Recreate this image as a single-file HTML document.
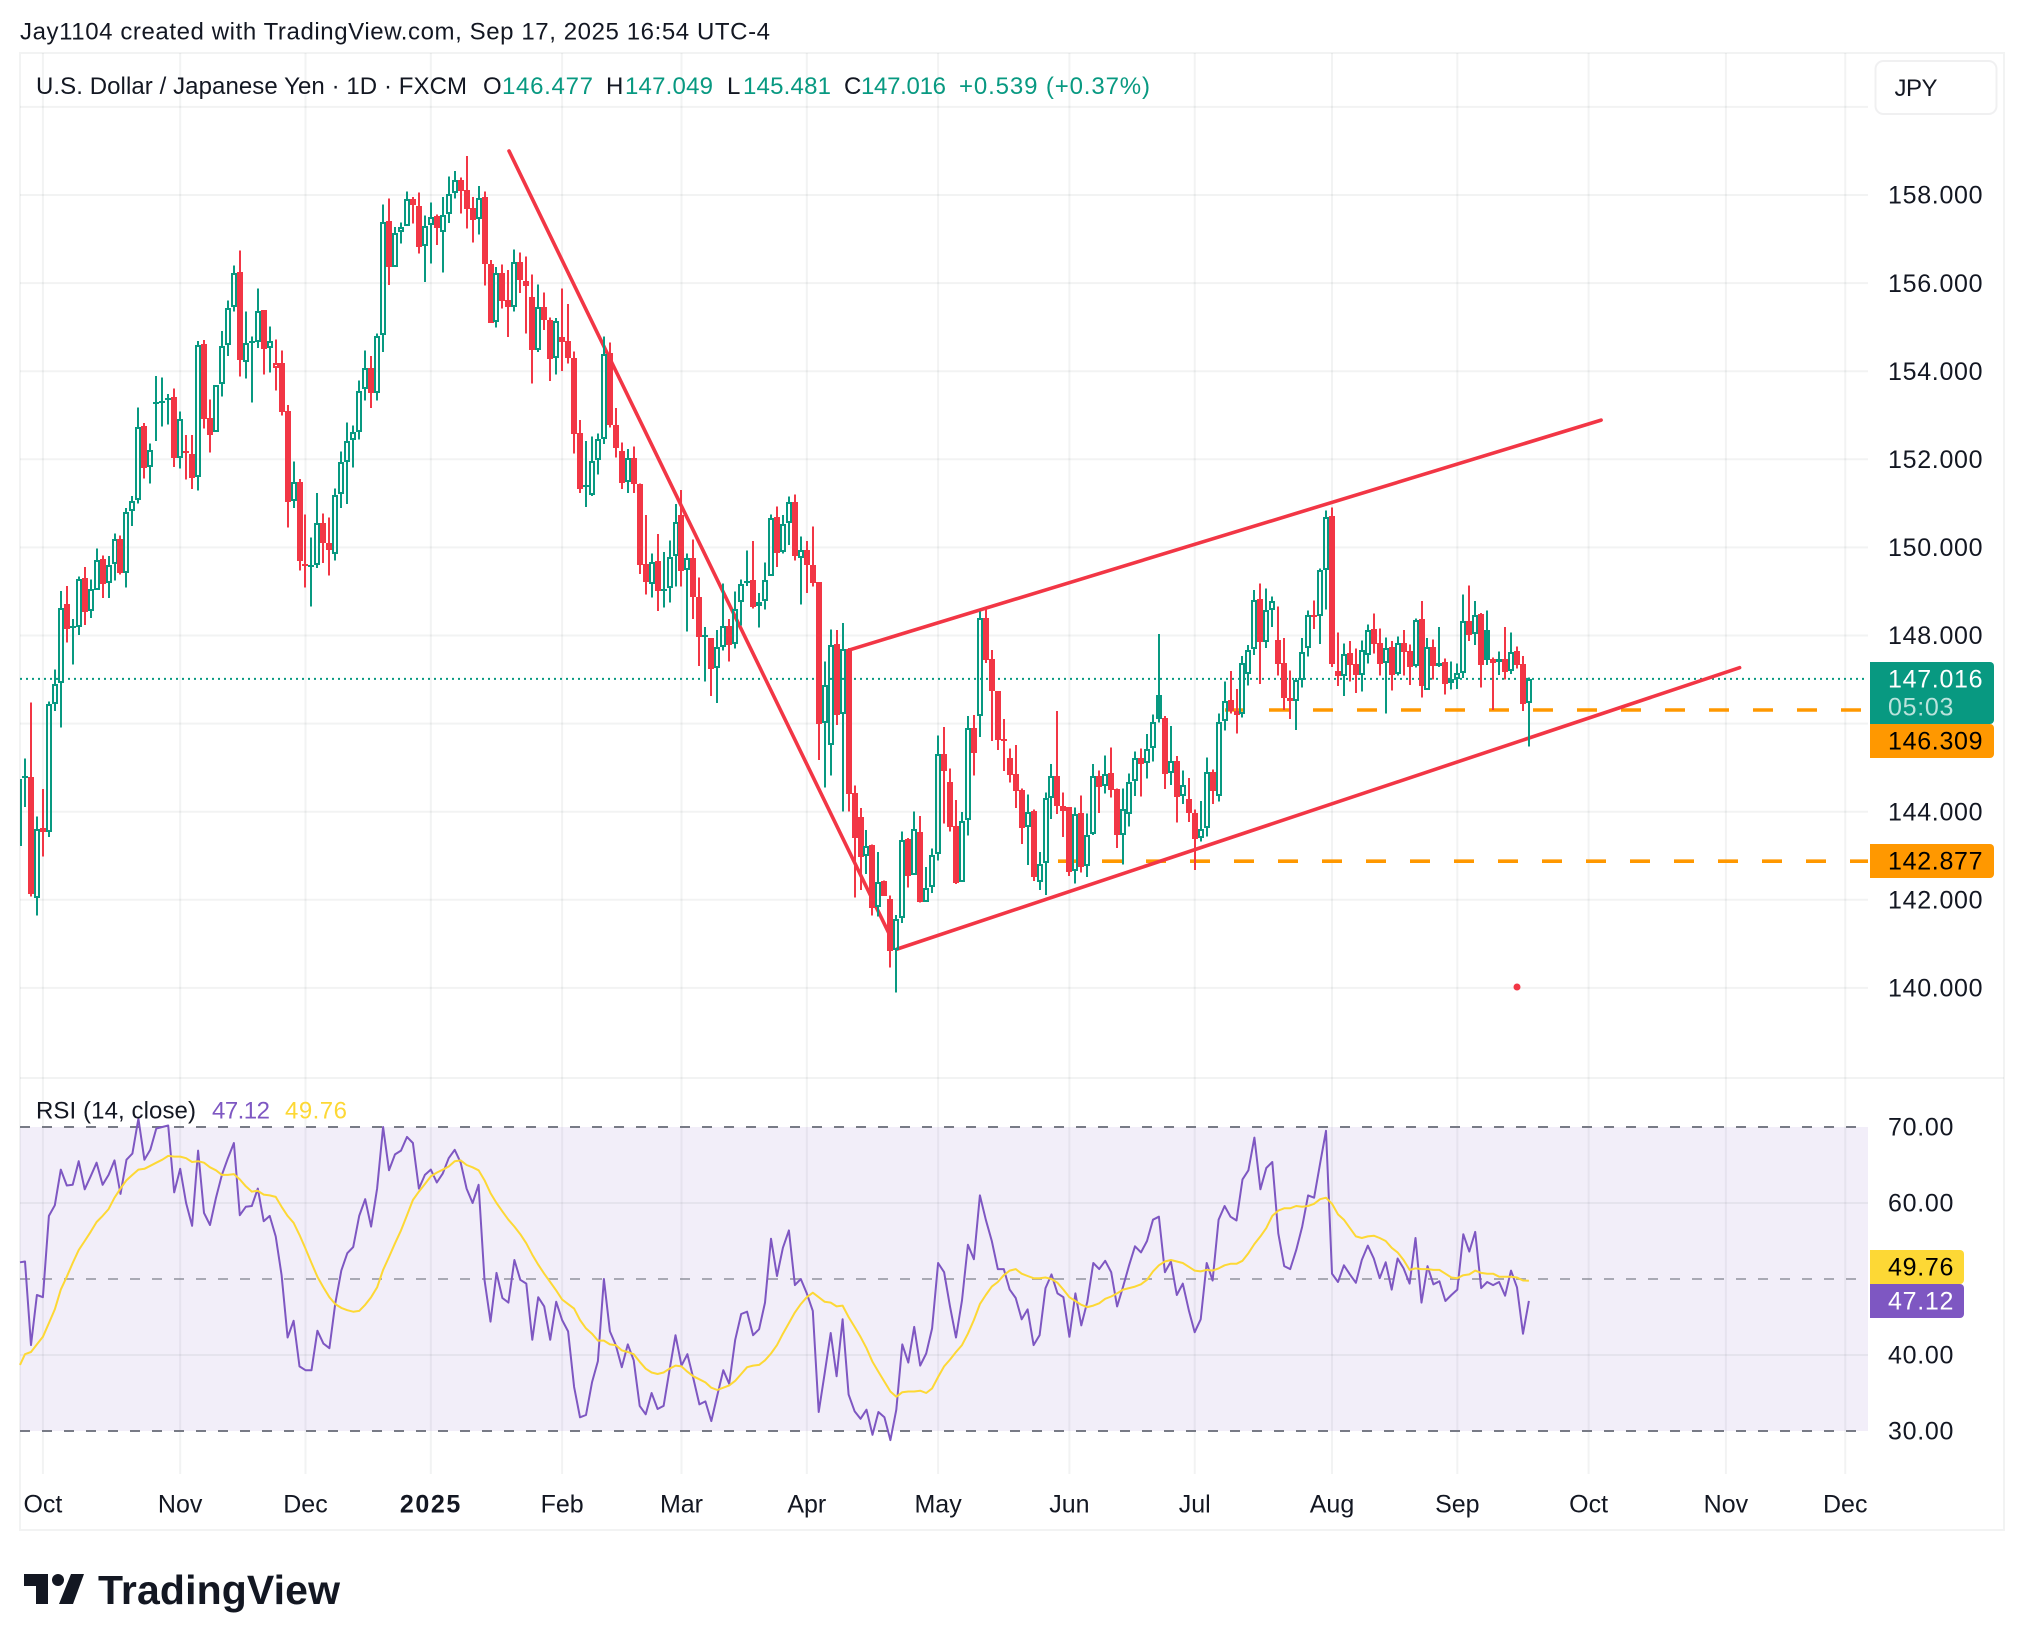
<!DOCTYPE html>
<html lang="en">
<head>
<meta charset="utf-8">
<title>USD/JPY daily chart with RSI</title>
<style>
html,body{margin:0;padding:0;background:#fff;}
svg{display:block;font-family:"Liberation Sans",sans-serif;}
</style>
</head>
<body>
<svg id="chart" xmlns="http://www.w3.org/2000/svg" width="2024" height="1650" viewBox="0 0 2024 1650">
  <defs>
    <clipPath id="plot-clip"><rect x="20" y="53" width="1848" height="1025"></rect></clipPath>
  </defs>
  <rect x="0" y="0" width="2024" height="1650" fill="#ffffff"></rect>
  <g id="grid-layer"></g>
  <g id="drawing-layer" clip-path="url(#plot-clip)"></g>
  <g id="candle-layer" clip-path="url(#plot-clip)" shape-rendering="crispEdges"></g>
  <g id="rsi-layer"></g>
  <g id="axis-layer"></g>

  <text x="20" y="39.5" font-size="24" fill="#131722" textLength="750">Jay1104 created with TradingView.com, Sep 17, 2025 16:54 UTC-4</text>

  <g font-size="24">
    <text x="36" y="94.2" fill="#131722" textLength="431">U.S. Dollar / Japanese Yen · 1D · FXCM</text>
    <text x="483" y="94.2" fill="#131722">O</text>
    <text x="502" y="94.2" fill="#089981" textLength="91">146.477</text>
    <text x="606" y="94.2" fill="#131722">H</text>
    <text x="625" y="94.2" fill="#089981" textLength="88">147.049</text>
    <text x="727" y="94.2" fill="#131722">L</text>
    <text x="743" y="94.2" fill="#089981" textLength="88">145.481</text>
    <text x="844" y="94.2" fill="#131722">C</text>
    <text x="861" y="94.2" fill="#089981" textLength="85">147.016</text>
    <text x="959" y="94.2" fill="#089981" textLength="191">+0.539 (+0.37%)</text>
  </g>

  <g>
    <rect x="1875.5" y="61" width="121" height="53" rx="8" fill="#ffffff" stroke="rgba(42,46,57,0.07)" stroke-width="2"></rect>
    <text x="1894.5" y="96" font-size="24" fill="#131722" textLength="43">JPY</text>
  </g>

  <g font-size="24">
    <text x="36" y="1118.5" fill="#131722" textLength="160">RSI (14, close)</text>
    <text x="212" y="1118.5" fill="#7e57c2" textLength="58">47.12</text>
    <text x="285" y="1118.5" fill="#fdd835" textLength="62">49.76</text>
  </g>

  <g font-size="25" letter-spacing="0.7">
    <path d="M1870 662H1990a4 4 0 0 1 4 4V720a4 4 0 0 1-4 4H1870Z" fill="#089981"></path>
    <text x="1888" y="687.7" fill="#ffffff">147.016</text>
    <text x="1888" y="715.7" fill="#ffffff" fill-opacity="0.72">05:03</text>
    <path d="M1870 724H1990a4 4 0 0 1 4 4V754a4 4 0 0 1-4 4H1870Z" fill="#ff9800"></path>
    <text x="1888" y="749.7" fill="#000000">146.309</text>
    <path d="M1870 844H1990a4 4 0 0 1 4 4V874a4 4 0 0 1-4 4H1870Z" fill="#ff9800"></path>
    <text x="1888" y="869.7" fill="#000000">142.877</text>
    <path d="M1870 1250H1960a4 4 0 0 1 4 4V1280a4 4 0 0 1-4 4H1870Z" fill="#fdd835"></path>
    <text x="1888" y="1275.7" fill="#000000">49.76</text>
    <path d="M1870 1284H1960a4 4 0 0 1 4 4V1314a4 4 0 0 1-4 4H1870Z" fill="#7e57c2"></path>
    <text x="1888" y="1309.7" fill="#ffffff">47.12</text>
  </g>

  <g>
    <path d="M24 1574H48V1604H36V1586H24Z" fill="#131722"></path>
    <circle cx="58" cy="1580" r="6" fill="#131722"></circle>
    <path d="M71 1574H84L73 1604H59Z" fill="#131722"></path>
    <text x="98" y="1604" font-size="41" font-weight="700" fill="#131722" textLength="242">TradingView</text>
  </g>
</svg>

<script>
const opens = [
143.21,144.76,144.78,142.03,143.62,143.53,146.44,146.92,148.71,148.19,
148.19,149.30,148.56,149.03,149.73,149.19,149.63,150.18,149.43,150.82,
151.08,152.76,151.83,153.26,153.27,153.34,153.41,152.03,152.19,152.12,
151.59,154.61,152.93,152.62,153.71,154.59,155.45,156.25,154.21,154.66,
154.66,155.38,154.52,154.07,154.18,153.09,151.05,151.49,149.62,149.56,
149.59,150.55,150.09,149.85,151.21,151.95,152.43,152.62,153.60,154.08,
153.51,154.82,157.40,156.37,157.15,157.30,157.92,157.74,156.84,157.31,
157.52,157.15,157.56,158.04,158.33,158.11,157.70,157.46,157.95,156.43,
155.12,156.23,155.62,155.46,156.48,156.05,155.68,154.47,155.46,155.17,
154.30,154.78,154.68,154.31,152.59,151.38,151.20,151.98,152.46,154.41,
152.79,152.18,151.48,152.04,151.45,149.62,149.17,149.68,149.02,149.07,
149.80,150.73,149.49,149.77,148.87,147.98,147.94,147.26,147.75,148.22,
147.81,148.76,149.21,149.25,148.68,148.78,149.36,150.68,149.89,150.55,
151.02,149.75,149.93,149.59,149.21,146.01,145.51,147.81,146.21,147.69,
144.42,143.88,142.99,143.24,141.84,142.43,142.01,140.86,141.59,143.38,
142.56,143.53,141.95,142.29,143.04,145.30,144.67,143.67,142.40,143.81,
145.89,146.17,148.40,147.46,146.73,145.66,145.21,144.85,144.49,143.65,
144.01,142.40,142.84,144.31,144.81,144.14,144.10,142.65,143.96,142.77,
143.49,144.80,144.58,144.87,144.52,143.47,143.95,144.69,145.23,145.11,
145.45,146.64,146.12,144.88,145.14,144.36,144.28,143.96,143.40,143.62,
144.89,144.36,146.06,146.53,146.29,146.21,147.13,147.69,148.83,147.86,
148.59,147.89,147.37,146.57,146.51,147.00,147.71,148.47,148.44,149.49,
150.71,147.19,147.08,147.60,147.35,147.10,147.56,148.14,147.82,147.38,
147.73,147.13,147.84,147.64,147.30,148.37,146.76,147.75,147.30,147.39,
146.92,147.02,147.16,148.34,148.03,148.49,148.12,147.46,147.40,147.47,
147.19,147.64,147.35,146.477];

const highs = [
144.74,145.21,146.48,143.89,144.51,146.50,147.23,149.01,149.12,148.37,
149.34,149.55,149.27,149.98,149.82,149.80,150.32,150.27,150.89,151.17,
153.18,152.82,152.36,153.89,153.86,153.48,153.61,153.09,152.55,152.55,
154.68,154.71,153.36,153.69,154.91,155.61,156.40,156.74,155.36,154.79,
155.88,155.38,155.02,154.72,154.47,153.23,151.95,151.55,150.75,150.23,
151.23,150.77,150.68,151.34,152.18,152.84,152.77,153.79,154.47,154.34,
154.86,157.79,157.92,157.27,157.38,158.08,157.95,158.06,157.54,157.83,
157.56,157.95,158.42,158.54,158.40,158.88,157.95,158.20,158.08,156.52,
156.36,156.42,156.30,156.76,156.70,156.60,156.20,155.97,155.79,155.22,
155.21,155.88,155.53,154.45,152.89,152.41,152.52,152.59,154.79,154.65,
153.16,152.38,152.23,152.29,151.45,150.73,149.86,150.30,149.89,150.16,
150.98,151.30,149.86,150.18,149.32,148.19,147.94,148.12,149.18,148.37,
149.00,149.27,149.93,150.14,148.96,149.66,150.75,150.93,150.73,151.16,
151.20,150.25,150.14,150.48,149.21,147.41,148.14,148.12,148.28,147.72,
144.60,144.08,143.58,143.26,143.08,142.44,142.10,141.65,143.55,143.40,
144.01,143.90,142.74,143.17,145.73,145.92,144.98,144.26,143.99,146.17,
146.19,148.55,148.62,147.67,146.74,146.10,145.44,145.51,144.53,144.39,
144.05,143.08,144.44,145.08,146.29,144.44,144.10,144.10,144.37,143.96,
145.08,144.94,145.28,145.46,144.53,144.53,144.87,145.37,145.44,145.76,
146.21,148.03,146.17,145.94,145.26,144.94,144.76,144.05,144.24,145.23,
144.96,146.23,146.96,147.19,146.78,147.53,147.78,149.03,149.18,149.07,
148.88,148.66,147.94,147.21,147.03,147.94,148.57,148.80,149.52,150.84,
150.91,148.07,147.82,147.87,147.71,147.89,148.25,148.50,148.16,147.96,
147.87,147.98,148.12,147.80,148.39,148.78,147.94,147.91,148.19,147.48,
147.41,147.37,148.93,149.14,148.78,148.51,148.57,147.50,147.64,148.19,
148.07,147.75,147.53,147.049];

const lows = [
143.21,144.11,142.07,141.64,142.98,143.43,146.29,145.91,147.84,147.34,
148.01,148.24,148.40,149.03,148.85,148.85,149.25,149.38,149.09,150.49,
151.00,151.56,151.45,152.42,152.75,152.79,151.83,151.79,151.54,151.33,
151.29,152.70,152.15,152.62,153.42,154.35,155.35,153.88,153.83,153.29,
154.53,153.92,153.97,153.56,152.99,150.45,150.90,149.47,149.09,148.66,
149.53,149.65,149.36,149.70,150.90,150.99,151.81,152.45,153.33,153.17,
153.33,154.44,155.96,156.37,156.90,157.30,157.35,156.67,156.03,156.44,
156.87,156.24,157.37,157.92,157.58,157.24,156.92,157.10,155.94,155.10,
154.99,155.42,154.78,155.35,155.77,154.86,153.72,154.44,154.93,153.78,
153.92,154.01,154.18,152.13,151.24,150.92,151.17,151.65,152.35,152.72,
152.04,151.33,151.24,151.24,149.40,148.93,148.86,148.56,148.63,148.75,
149.11,149.11,148.09,148.38,147.31,146.96,146.63,146.47,147.66,147.41,
147.70,148.23,149.12,148.61,148.18,148.59,149.36,149.56,149.86,150.06,
149.70,148.70,148.97,149.11,145.17,144.55,144.82,145.97,144.00,144.00,
142.05,142.22,142.59,141.64,141.62,142.09,140.46,139.89,141.47,142.28,
142.56,141.94,141.95,142.16,142.89,143.73,143.55,142.36,142.40,143.46,
144.82,145.70,147.38,145.60,145.40,144.92,144.66,144.08,143.27,142.79,
142.43,142.22,142.11,143.83,143.95,143.43,142.54,142.37,142.62,142.52,
143.47,143.97,144.41,144.32,143.18,142.80,143.66,144.36,144.34,144.75,
145.14,146.03,144.52,144.61,143.75,144.18,143.77,142.68,143.32,143.44,
144.18,144.23,145.84,146.23,145.77,146.14,146.86,147.56,146.90,147.72,
148.19,147.09,146.31,146.10,145.86,146.82,147.52,148.15,147.81,148.59,
147.29,146.85,146.63,146.96,146.70,146.73,147.36,147.59,147.09,146.23,
146.75,147.09,147.09,146.88,147.27,146.59,146.76,147.00,147.29,146.66,
146.77,146.79,147.04,147.88,147.79,146.82,147.33,146.31,147.10,147.00,
147.13,147.25,146.29,145.481];

const closes = [
144.74,144.80,142.13,143.61,143.53,146.44,146.91,148.63,148.15,148.22,
149.29,148.54,149.06,149.72,149.18,149.61,150.18,149.43,150.81,151.06,
152.74,151.81,152.21,153.30,153.32,153.40,152.02,152.92,152.16,151.58,
154.60,152.92,152.56,153.69,154.58,155.44,156.24,154.26,154.64,154.68,
155.37,154.51,154.69,154.18,153.08,151.04,151.49,149.70,149.59,149.59,
150.55,150.09,149.95,151.20,151.95,152.42,152.61,153.56,154.08,153.50,
154.81,157.39,156.36,157.14,157.28,157.92,157.78,156.83,157.30,157.51,
157.26,157.55,158.02,158.33,158.10,157.69,157.44,157.93,156.43,155.10,
156.24,155.60,155.46,156.48,156.07,155.94,154.47,155.46,155.17,154.28,
155.15,154.67,154.31,152.58,151.33,151.41,151.97,152.45,154.40,152.78,
152.26,151.47,152.04,151.45,149.61,149.22,149.67,149.00,149.06,149.79,
150.58,149.47,149.77,148.87,147.97,148.01,147.25,147.75,148.22,147.79,
148.61,149.18,149.24,148.65,148.77,149.27,150.67,149.88,150.54,151.02,
149.81,149.93,149.59,149.20,145.99,146.88,147.79,146.20,147.69,144.41,
143.41,142.98,143.22,141.82,142.41,142.09,140.84,141.56,143.36,142.55,
143.61,141.94,142.27,143.02,145.30,144.93,143.66,142.39,143.80,145.89,
145.34,148.40,147.44,146.73,145.63,145.62,144.84,144.47,143.64,144.00,
142.52,142.82,144.30,144.80,144.14,144.02,142.64,143.95,142.75,143.48,
144.80,144.57,144.86,144.50,143.46,144.07,144.68,145.23,145.09,145.43,
146.04,146.11,144.86,145.14,144.34,144.61,143.96,143.39,143.61,144.89,
144.47,146.04,146.52,146.29,146.20,147.38,147.67,148.81,147.86,148.58,
148.79,147.36,146.57,146.51,146.98,147.63,148.47,148.43,149.48,150.70,
147.36,147.07,147.59,147.33,147.10,147.68,148.13,147.81,147.36,147.72,
147.11,147.83,147.63,147.29,148.36,146.86,147.75,147.30,147.38,146.91,
147.01,147.15,148.34,148.02,148.47,147.34,147.44,147.38,147.46,147.18,
147.63,147.33,146.45,147.016];

const rsiValues = [
52.2,52.3,41.3,47.9,47.6,58.3,59.7,64.4,62.3,62.4,
65.5,61.8,63.5,65.3,62.4,63.7,65.6,61.2,65.7,66.5,
71.1,65.7,67.0,69.8,70.0,70.2,61.4,64.5,60.0,57.0,
66.9,58.7,57.1,60.7,63.7,65.9,67.9,58.4,59.5,59.6,
61.9,57.6,58.3,55.6,50.5,42.3,44.5,38.5,38.0,38.0,
43.2,41.5,40.9,46.8,51.1,53.4,54.2,58.3,60.5,56.9,
61.9,70.0,64.3,66.4,66.9,68.7,67.9,61.9,63.7,64.4,
62.7,63.9,65.9,67.0,65.3,61.9,60.0,62.4,49.9,44.4,
50.8,47.5,46.9,52.5,49.9,49.4,42.0,47.6,46.4,42.0,
47.0,44.6,43.1,35.8,31.8,32.1,36.4,39.2,50.0,43.1,
41.3,38.4,41.4,39.3,33.3,32.2,35.0,32.9,33.3,38.0,
42.6,38.6,40.1,36.9,33.5,33.9,31.3,34.7,38.0,36.2,
42.0,45.4,45.7,42.6,43.4,46.9,55.3,50.4,54.1,56.4,
49.2,50.0,48.1,45.8,32.5,37.6,42.9,37.2,44.7,34.8,
32.6,31.6,32.8,29.5,32.5,31.8,28.8,32.8,41.4,39.0,
43.7,38.6,40.2,43.5,52.1,50.9,46.4,42.3,47.2,54.5,
52.6,61.0,57.8,55.0,51.3,51.3,48.6,47.5,44.7,46.0,
41.3,42.6,48.8,50.6,48.1,47.6,42.4,48.1,43.9,47.0,
52.1,51.3,52.4,50.9,46.4,49.0,51.8,54.3,53.5,55.0,
57.8,58.2,50.9,52.3,47.9,49.4,45.9,43.0,44.7,52.1,
49.8,57.8,59.6,58.2,57.7,63.1,64.3,68.6,61.8,64.6,
65.4,56.0,51.7,51.3,53.8,56.9,61.0,60.7,65.2,69.5,
50.7,49.6,51.8,50.6,49.5,52.5,54.4,52.7,50.1,52.2,
48.6,52.7,51.4,49.4,55.4,46.9,51.7,49.3,49.7,47.1,
47.9,48.6,55.9,53.6,56.2,48.8,49.6,49.2,49.6,47.8,
51.1,48.9,42.8,47.12];

const rsiMaValues = [
38.7,40.1,40.4,41.4,42.4,44.2,46.0,48.6,50.3,52.1,
53.8,55.0,56.2,57.5,58.3,59.2,60.7,61.9,63.0,63.7,
64.4,64.5,64.9,65.3,65.7,66.2,66.1,66.1,65.9,65.4,
65.5,65.3,64.7,64.3,63.7,63.7,63.8,63.1,62.2,61.5,
61.6,61.1,61.0,60.8,59.5,58.3,57.4,55.8,54.0,52.1,
50.3,48.9,47.6,46.7,46.2,45.9,45.7,45.8,46.6,47.6,
48.9,51.2,52.9,54.7,56.4,58.4,60.4,61.5,62.5,63.5,
64.0,64.4,64.8,65.5,65.6,65.0,64.7,64.3,63.0,61.3,
60.0,58.9,57.8,56.9,55.9,54.7,53.2,51.9,50.7,49.6,
48.5,47.3,46.7,46.1,44.6,43.5,42.8,41.9,41.9,41.4,
41.3,40.6,40.4,40.1,39.1,38.2,37.7,37.5,37.7,38.2,
38.6,38.5,37.8,37.2,36.8,36.4,35.7,35.4,35.7,36.0,
36.6,37.5,38.4,38.6,38.7,39.3,40.2,41.3,42.8,44.2,
45.6,46.7,47.6,48.2,47.6,47.0,46.9,46.4,46.5,45.0,
43.7,42.4,40.9,39.1,37.8,36.5,35.2,34.5,35.1,35.2,
35.2,35.3,35.0,35.6,37.1,38.5,39.4,40.4,41.3,42.8,
44.6,46.7,47.9,49.0,49.6,50.5,51.1,51.3,50.7,50.4,
50.1,50.1,50.2,50.0,49.5,48.6,47.6,47.1,46.6,46.3,
46.5,46.8,47.4,47.7,48.1,48.6,48.8,49.0,49.3,49.9,
51.0,51.8,52.3,52.5,52.3,52.1,51.6,51.1,51.0,51.2,
51.1,51.4,51.8,52.0,52.0,52.4,53.4,54.6,55.6,56.7,
58.3,59.0,59.3,59.3,59.6,59.5,59.6,59.9,60.5,60.7,
59.9,58.5,57.8,56.7,55.6,55.4,55.6,55.7,55.4,55.0,
54.1,53.5,52.5,51.2,51.4,51.3,51.3,51.2,51.2,50.7,
50.2,50.1,50.5,50.6,51.1,50.8,50.7,50.7,50.3,50.3,
50.3,50.2,49.8,49.76];

const priceTicks = [158,156,154,152,150,148,144,142,140];
const priceGridLevels = [160,158,156,154,152,150,148,146,144,142,140];
const rsiTicks = [70,60,40,30];
const rsiGridLevels = [60,40];
const rsiBandLevels = [70,30];
const rsiMidLevels = [50];
const monthLabels = ["Oct","Nov","Dec","2025","Feb","Mar","Apr","May","Jun","Jul","Aug","Sep","Oct","Nov","Dec"];
const monthBars = [4,27,48,69,91,111,132,154,176,197,220,241,263,286,306];
const levelPrices = [146.309,142.877];
const levelStartBars = [202.07,174.09];
const trendLineStartBars = [82.1,147.1,139.07];
const trendLineEndBars = [145.9,288.3,265.1];
const trendLineStartPrices = [159.0,140.88,147.67];
const trendLineEndPrices = [141.2,147.27,152.89];
const markerBar = 251;
const markerPrice = 140.02;

const SVGNS = 'http://www.w3.org/2000/svg';
const GREEN = '#089981', RED = '#f23645', GRID = 'rgba(42,46,57,0.06)';
const plotLeft = 20, plotRight = 1868, frameRight = 2004, frameTop = 53, frameBottom = 1530, paneSplit = 1078, axisTop = 1474;

function barX(i){ return 25 + (i - 1) * 5.968; }
function priceY(p){ return 195 + (158 - p) * 44.05; }
function rsiY(v){ return 1127 + (70 - v) * 7.6; }

function make(tag, attrs, parent, text){
  const el = document.createElementNS(SVGNS, tag);
  for (const k in attrs) el.setAttribute(k, attrs[k]);
  if (text !== undefined) el.textContent = text;
  parent.appendChild(el);
  return el;
}

const gridLayer = document.getElementById('grid-layer');
const drawingLayer = document.getElementById('drawing-layer');
const candleLayer = document.getElementById('candle-layer');
const rsiLayer = document.getElementById('rsi-layer');
const axisLayer = document.getElementById('axis-layer');

/* frame */
const frame = make('rect', {x:plotLeft, y:frameTop, width:frameRight-plotLeft, height:frameBottom-frameTop, fill:'none', stroke:GRID, 'stroke-width':2}, gridLayer);


const split = make('line', {x1:plotLeft, x2:frameRight, y1:paneSplit, y2:paneSplit, stroke:GRID, 'stroke-width':2}, gridLayer);



/* horizontal grid in price pane */
priceGridLevels.forEach(function(p){
  const l = make('line', {x1:plotLeft, x2:plotRight, y1:priceY(p), y2:priceY(p), stroke:GRID, 'stroke-width':2}, gridLayer);
  
  
});

/* vertical grid + month labels */
monthBars.forEach(function(b, k){
  const x = barX(b);
  const l = make('line', {x1:x, x2:x, y1:frameTop, y2:axisTop, stroke:GRID, 'stroke-width':2}, gridLayer);
  
  
  const bold = monthLabels[k] === '2025';
  const t = make('text', {x:x, y:1512.5, 'font-size':25, 'text-anchor':'middle', fill:'#131722', 'font-weight': bold ? 700 : 400, 'letter-spacing': bold ? 1.6 : 0}, axisLayer, monthLabels[k]);
  
  
});

/* price axis ticks */
priceTicks.forEach(function(p){
  const t = make('text', {x:1888, y:priceY(p)+8.7, 'font-size':25, 'letter-spacing':0.7, fill:'#131722'}, axisLayer, p.toFixed(3));
  
  
});

/* rsi axis ticks */
rsiTicks.forEach(function(v){
  const t = make('text', {x:1888, y:rsiY(v)+8.7, 'font-size':25, 'letter-spacing':0.7, fill:'#131722'}, axisLayer, v.toFixed(2));
  
  
});

/* last price dotted line */
const lastLine = make('line', {x1:plotLeft, x2:plotRight, y1:priceY(closes[closes.length-1]), y2:priceY(closes[closes.length-1]), stroke:GREEN, 'stroke-width':2, 'stroke-dasharray':'2 4'}, drawingLayer);



/* horizontal levels */
levelPrices.forEach(function(p, k){
  const l = make('line', {x1:barX(levelStartBars[k]), x2:plotRight, y1:priceY(p), y2:priceY(p), stroke:'#ff9800', 'stroke-width':3.6, 'stroke-dasharray':'20 24'}, drawingLayer);
  
  
});

/* trend lines */
trendLineStartBars.forEach(function(b, k){
  const l = make('line', {x1:barX(b), y1:priceY(trendLineStartPrices[k]), x2:barX(trendLineEndBars[k]), y2:priceY(trendLineEndPrices[k]), stroke:RED, 'stroke-width':3.6, 'stroke-linecap':'round'}, drawingLayer);
  
  
});

/* marker dot */
const marker = make('circle', {cx:barX(markerBar), cy:priceY(markerPrice), r:3.5, fill:RED}, drawingLayer);



/* candles */
opens.forEach(function(o, i){
  const c = closes[i], h = highs[i], lo = lows[i];
  const prev = i > 0 ? closes[i-1] : o;
  const color = c >= prev ? GREEN : RED;
  const hollow = c > o;
  const x = Math.round(barX(i));
  const top = Math.round(priceY(Math.max(o, c)));
  let bot = Math.round(priceY(Math.min(o, c)));
  if (bot - top < 2) bot = top + 2;
  const g = make('g', {}, candleLayer);
  
  
  const wick = make('path', {d:'M'+x+' '+priceY(h)+'V'+top+'M'+x+' '+bot+'V'+priceY(lo), stroke:color, 'stroke-width':2, fill:'none'}, g);
  
  
  let body;
  if (hollow && bot - top > 3) {
    body = make('rect', {x:x-2, y:top+1, width:4, height:bot-top-2, fill:'none', stroke:color, 'stroke-width':2}, g);
  } else {
    body = make('rect', {x:x-3, y:top, width:6, height:bot-top, fill:color}, g);
  }
  
  
});

/* rsi pane */
const band = make('rect', {x:plotLeft, y:rsiY(70), width:plotRight-plotLeft, height:rsiY(30)-rsiY(70), fill:'#7e57c2', 'fill-opacity':0.1}, rsiLayer);


rsiGridLevels.forEach(function(v){
  const l = make('line', {x1:plotLeft, x2:plotRight, y1:rsiY(v), y2:rsiY(v), stroke:GRID, 'stroke-width':2}, rsiLayer);
  
  
});
rsiBandLevels.forEach(function(v){
  const l = make('line', {x1:plotLeft, x2:plotRight, y1:rsiY(v), y2:rsiY(v), stroke:'#787b86', 'stroke-width':2, 'stroke-dasharray':'10 12'}, rsiLayer);
  
  
});
rsiMidLevels.forEach(function(v){
  const l = make('line', {x1:plotLeft, x2:plotRight, y1:rsiY(v), y2:rsiY(v), stroke:'#787b86', 'stroke-opacity':0.6, 'stroke-width':2, 'stroke-dasharray':'10 12'}, rsiLayer);
  
  
});

function linePoints(values){
  const pts = [];
  values.forEach(function(v, i){
    const x = barX(i);
    pts.push((x < plotLeft ? plotLeft : x).toFixed(1) + ',' + rsiY(v).toFixed(1));
  });
  return pts.join(' ');
}
const rsiLine = make('polyline', {points:linePoints(rsiValues), fill:'none', stroke:'#7e57c2', 'stroke-width':2, 'stroke-linejoin':'round'}, rsiLayer);


const maLine = make('polyline', {points:linePoints(rsiMaValues), fill:'none', stroke:'#fdd835', 'stroke-width':2, 'stroke-linejoin':'round'}, rsiLayer);


</script>
</body>
</html>
